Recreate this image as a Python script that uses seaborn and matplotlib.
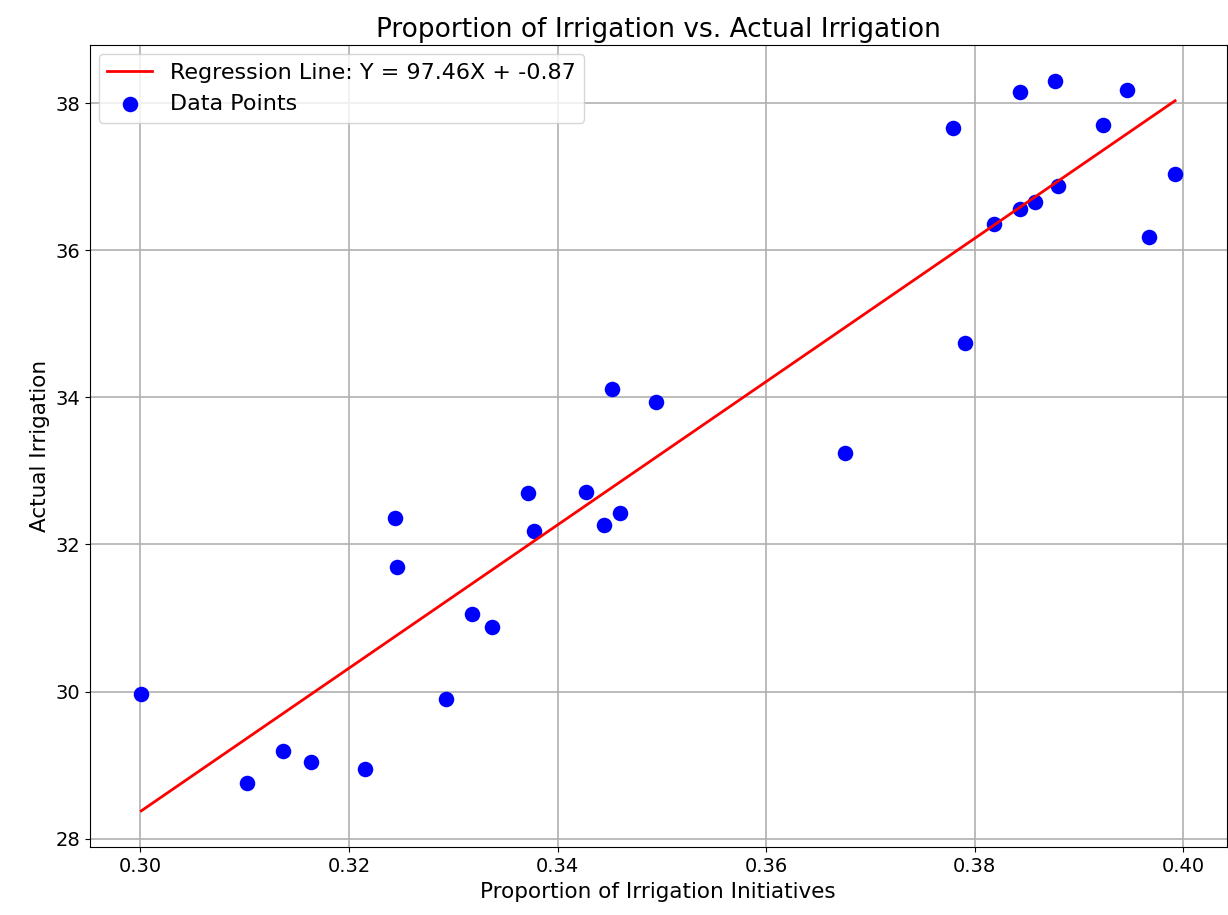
import numpy as np
import pandas as pd
import matplotlib
matplotlib.use('Agg')
import matplotlib.pyplot as plt
import seaborn as sns

# values
proportion = [0.3001, 0.3102, 0.3137, 0.3164, 0.3215, 0.3244, 0.3246, 0.3293,
              0.3318, 0.3337, 0.3372, 0.3377, 0.3427, 0.3445, 0.3460, 0.3452,
              0.3494, 0.3676, 0.3779, 0.3843, 0.3877, 0.3946, 0.3923, 0.3992,
              0.3880, 0.3858, 0.3843, 0.3818, 0.3967, 0.3791]
irrigation = [29.97, 28.75, 29.19, 29.04, 28.95, 32.36, 31.70, 29.90,
              31.06, 30.88, 32.70, 32.19, 32.72, 32.27, 32.43, 34.11,
              33.94, 33.25, 37.67, 38.15, 38.30, 38.18, 37.70, 37.04,
              36.87, 36.66, 36.57, 36.36, 36.18, 34.74]
slope = 97.46
intercept = -0.87

df = pd.DataFrame({'Proportion of Irrigation Initiatives': proportion,
                   'Actual Irrigation': irrigation})

x_line = np.array([min(proportion), max(proportion)])
y_line = slope * x_line + intercept

fig, ax = plt.subplots(figsize=(12.28, 9.15), dpi=100)
ax.plot(x_line, y_line, color='red', linewidth=2,
        label=f'Regression Line: Y = {slope:.2f}X + {intercept:.2f}')
sns.scatterplot(data=df, x='Proportion of Irrigation Initiatives', y='Actual Irrigation',
                color='blue', s=125, linewidth=0, label='Data Points', ax=ax)

ax.set_title('Proportion of Irrigation vs. Actual Irrigation', fontsize=19)
ax.set_xlabel('Proportion of Irrigation Initiatives', fontsize=15.5)
ax.set_ylabel('Actual Irrigation', fontsize=15.5)
ax.tick_params(labelsize=14)
ax.grid(True, color='#b0b0b0', linewidth=1.2)
ax.set_axisbelow(True)
ax.legend(loc='upper left', fontsize=16, borderaxespad=0.4)

plt.subplots_adjust(left=0.073, right=0.999, top=0.951, bottom=0.074)
plt.savefig('out.png')
